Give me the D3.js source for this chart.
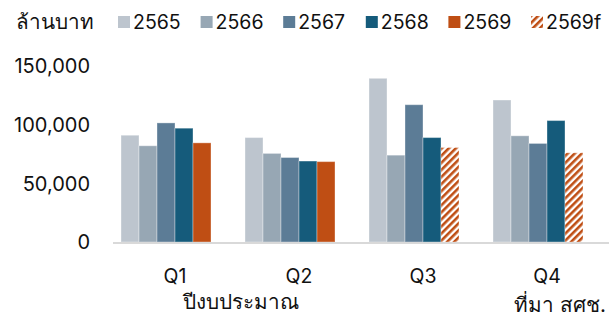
<!DOCTYPE html>
<html>
<head>
<meta charset="utf-8">
<script src="https://cdn.jsdelivr.net/npm/d3@7"></script>
<style>
  body { margin: 0; background: #fff; }
  svg { display: block; font-family: Inter, "Noto Sans", sans-serif; }
</style>
</head>
<body>
<svg id="chart" width="616" height="316"></svg>
<script>
  const quarters = ['Q1', 'Q2', 'Q3', 'Q4'];
  const years = ['2565', '2566', '2567', '2568', '2569'];
  const legendLabels = ['2565', '2566', '2567', '2568', '2569', '2569f'];
  const yTicks = [0, 50000, 100000, 150000];

  // values per year, Q1..Q4 (Q3/Q4 of 2569 are forecasts)
  const v2565 = [91000, 89000, 139500, 121000];
  const v2566 = [82000, 75500, 74000, 90500];
  const v2567 = [101500, 72000, 117000, 84000];
  const v2568 = [97000, 69000, 89000, 103500];
  const v2569 = [84500, 68500, 80500, 76000];
  const forecast2569 = [false, false, true, true];

  const seriesValues = [v2565, v2566, v2567, v2568, v2569];
  const colors = ['#bdc5ce', '#97a7b4', '#5c7c96', '#155b7b', '#bf4e14'];

  const svg = d3.select('#chart');

  const defs = svg.append('defs');
  const pat = defs.append('pattern')
    .attr('id', 'hatch')
    .attr('patternUnits', 'userSpaceOnUse')
    .attr('width', 5).attr('height', 5)
    .attr('patternTransform', 'rotate(45)');
  pat.append('rect').attr('width', 5).attr('height', 5).attr('fill', '#fff');
  pat.append('rect').attr('width', 2.6).attr('height', 5).attr('fill', '#bf4e14');

  const x0 = d3.scaleBand().domain(quarters).range([113, 609]);
  const x1 = d3.scaleBand().domain(years).range([0, 90]);
  const y = d3.scaleLinear().domain([0, 150000]).range([242, 66]);

  // y tick labels
  svg.append('g').selectAll('text').data(yTicks).join('text')
    .attr('x', 90).attr('y', d => y(d))
    .attr('dy', '0.36em')
    .attr('text-anchor', 'end')
    .attr('font-size', 20)
    .attr('fill', '#111')
    .text(d => d3.format(',')(d));

  // bars
  const groups = svg.append('g').selectAll('g').data(quarters).join('g')
    .attr('transform', q => `translate(${x0(q) + 8},0)`);

  groups.selectAll('rect')
    .data((q, qi) => years.map((yr, si) => ({ yr, si, qi, v: seriesValues[si][qi] })))
    .join('rect')
    .attr('x', d => x1(d.yr))
    .attr('y', d => y(d.v))
    .attr('width', x1.bandwidth())
    .attr('height', d => y(0) - y(d.v))
    .attr('fill', d => (d.si === 4 && forecast2569[d.qi]) ? 'url(#hatch)' : colors[d.si])
    .attr('stroke', 'rgba(255,255,255,0.35)')
    .attr('stroke-width', 1);

  // baseline
  svg.append('line')
    .attr('x1', 113).attr('x2', 609)
    .attr('y1', y(0) + 1).attr('y2', y(0) + 1)
    .attr('stroke', '#d9d9d9').attr('stroke-width', 2);

  // category labels
  svg.append('g').selectAll('text').data(quarters).join('text')
    .attr('x', q => x0(q) + x0.bandwidth() / 2)
    .attr('y', 283)
    .attr('text-anchor', 'middle')
    .attr('font-size', 19.5)
    .attr('fill', '#111')
    .text(q => q);

  svg.append('text')
    .attr('x', 241).attr('y', 309)
    .attr('text-anchor', 'middle')
    .attr('font-size', 20.7).attr('fill', '#111')
    .text('ปีงบประมาณ');

  svg.append('text')
    .attr('x', 606).attr('y', 312)
    .attr('text-anchor', 'end')
    .attr('font-size', 20.7).attr('fill', '#111')
    .text('ที่มา สศช.');

  // unit + legend
  svg.append('text')
    .attr('x', 16).attr('y', 29)
    .attr('font-size', 20.7).attr('fill', '#111')
    .text('ล้านบาท');

  const legend = svg.append('g').selectAll('g').data(legendLabels).join('g')
    .attr('transform', (d, i) => `translate(${118 + i * 82.6},0)`);
  legend.append('rect')
    .attr('y', 16).attr('width', 12).attr('height', 12)
    .attr('fill', (d, i) => i === 5 ? 'url(#hatch)' : colors[i]);
  legend.append('text')
    .attr('x', 15).attr('y', 29)
    .attr('font-size', 19.5).attr('fill', '#111')
    .text(d => d);
</script>
</body>
</html>
